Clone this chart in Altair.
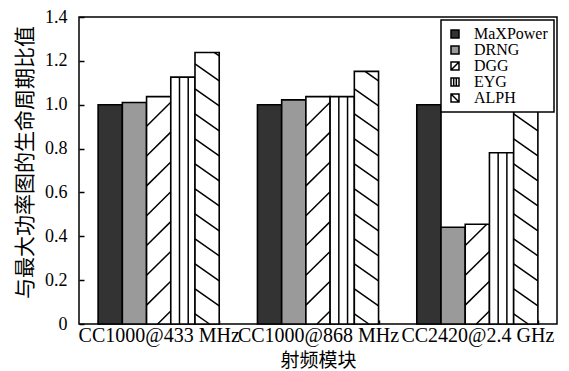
import altair as alt
import pandas as pd

groups = ["CC1000@433 MHz", "CC1000@868 MHz", "CC2420@2.4 GHz"]
series = ["MaXPower", "DRNG", "DGG", "EYG", "ALPH"]
maxpower = [1.00, 1.00, 1.00]
drng = [1.01, 1.022, 0.441]
dgg = [1.037, 1.037, 0.455]
eyg = [1.126, 1.037, 0.781]
alph = [1.238, 1.152, 1.00]

values = {"MaXPower": maxpower, "DRNG": drng, "DGG": dgg, "EYG": eyg, "ALPH": alph}
fills = ["#333333", "#9a9a9a", "#ffffff", "#ffffff", "#ffffff"]
shapes = [
    "square",
    "square",
    "M-1,-1H1V1H-1Z M-1,1L1,-1",
    "M-1,-1H1V1H-1Z M-0.33,-1V1 M0.33,-1V1",
    "M-1,-1H1V1H-1Z M-1,-1L1,1",
]

rows = []
for gi, g in enumerate(groups):
    for s in series:
        rows.append({"group": g, "series": s, "value": values[s][gi]})
df = pd.DataFrame(rows)

# hatch pattern segments (in data units of a linear x scale over the 3 groups)
PAD_OUT, BAND = 0.12, 0.76
W = BAND / len(series)
hatch_spec = {
    "DGG": ("diag", 0.109, 0.136, -0.05),
    "EYG": ("vert", None, None, None),
    "ALPH": ("diag", -0.077, 0.114, 0.046),
}
hrows = []
for gi, g in enumerate(groups):
    for si, s in enumerate(series):
        if s not in hatch_spec:
            continue
        h = values[s][gi]
        xl = gi + PAD_OUT + si * W
        kind, slope, sp, phase = hatch_spec[s]
        if kind == "vert":
            for f in (0.36, 0.72):
                hrows.append({"x": xl + W * f, "x2": xl + W * f, "y": 0, "y2": h})
            continue
        for k in range(-3, 20):
            y0 = phase + k * sp
            if slope > 0:
                tlo, thi = (0 - y0) / slope, (h - y0) / slope
            else:
                tlo, thi = (h - y0) / slope, (0 - y0) / slope
            tlo, thi = max(0.0, tlo), min(1.0, thi)
            if tlo < thi:
                hrows.append({
                    "x": xl + W * tlo, "x2": xl + W * thi,
                    "y": y0 + slope * tlo, "y2": y0 + slope * thi,
                })
hdf = pd.DataFrame(hrows)

yscale = alt.Scale(domain=[0, 1.4], nice=False)
bandscale = alt.Scale(paddingInner=0.24, paddingOuter=0.12)
xband = alt.X(
    "group:N", sort=groups, title="射频模块", scale=bandscale,
    axis=alt.Axis(
        labelAngle=0, tickBand="extent", domain=False, offset=-4, tickSize=4,
        tickColor="black", tickWidth=1.5, labelPadding=1,
        labelFont="Liberation Serif", labelFontSize=20, labelColor="black",
        titleFont="Noto Sans CJK SC", titleFontSize=19, titleFontWeight="normal",
        titleColor="black", titlePadding=6,
    ),
)
xband_hidden = alt.X("group:N", sort=groups, scale=bandscale, axis=None)
xoff = alt.XOffset("series:N", sort=series,
                   scale=alt.Scale(paddingInner=0, paddingOuter=0))
yenc = alt.Y(
    "value:Q", scale=yscale, title="与最大功率图的生命周期比值",
    axis=alt.Axis(
        values=[0, 0.2, 0.4, 0.6, 0.8, 1.0, 1.2, 1.4],
        labelExpr="datum.value == 0 ? '0' : format(datum.value, '.1f')",
        grid=False, domain=False, offset=-5, tickSize=5, tickColor="black",
        tickWidth=1.5, labelPadding=12, labelFont="Liberation Serif",
        labelFontSize=18, labelColor="black",
        titleFont="Noto Sans CJK SC", titleFontSize=21, titleFontWeight="normal",
        titleColor="black", titleX=-59, titleY=145, titleBaseline="middle",
        titleAngle=270,
    ),
)
legend_props = dict(
    title=None, symbolStrokeColor="black", symbolStrokeWidth=1.5,
    symbolSize=64, symbolOpacity=1, rowPadding=-3, labelFontSize=16,
    labelOffset=11, padding=6,
)
color = alt.Fill("series:N", sort=series, scale=alt.Scale(domain=series, range=fills),
                 legend=alt.Legend(**legend_props))
stroke = alt.Stroke("series:N", sort=series,
                    scale=alt.Scale(domain=series, range=["black"] * len(series)),
                    legend=alt.Legend(**legend_props))
shape = alt.Shape("series:N", sort=series,
                  scale=alt.Scale(domain=series, range=shapes),
                  legend=alt.Legend(**legend_props))

legend_pts = alt.Chart(df).transform_calculate(lo="datum.value * 0.2").mark_point(
    filled=True, size=20
).encode(
    x=xband_hidden, xOffset=xoff,
    y=alt.Y("lo:Q", scale=yscale),
    fill=color, shape=shape, stroke=stroke,
)

bars = alt.Chart(df).mark_bar(strokeWidth=1.6).encode(
    x=xband, xOffset=xoff, y=yenc, fill=color, stroke=stroke,
)

hatch = alt.Chart(hdf).mark_rule(color="black", strokeWidth=1.5).encode(
    x=alt.X("x:Q", scale=alt.Scale(domain=[0, 3], nice=False, zero=False), axis=None),
    x2="x2:Q",
    y=alt.Y("y:Q", scale=yscale),
    y2="y2:Q",
)

chart = (
    alt.layer(legend_pts, bars, hatch)
    .resolve_scale(x="independent")
    .properties(
        width=478, height=307,
        autosize=alt.AutoSizeParams(type="none"),
        padding={"left": 71, "top": 9, "right": 4, "bottom": 47},
    )
    .configure_view(stroke="black", strokeWidth=1.5)
    .configure_legend(
        orient="top-right", offset=3, padding=6, strokeColor="black",
        fillColor="white", strokeWidth=1.5, labelFont="Liberation Serif",
        labelFontSize=16, labelColor="black", symbolSize=64,
        symbolStrokeColor="black", symbolStrokeWidth=1.5, rowPadding=-3,
        labelOffset=11,
    )
)

chart.save("out.html", embed_options={"renderer": "svg", "actions": False})
